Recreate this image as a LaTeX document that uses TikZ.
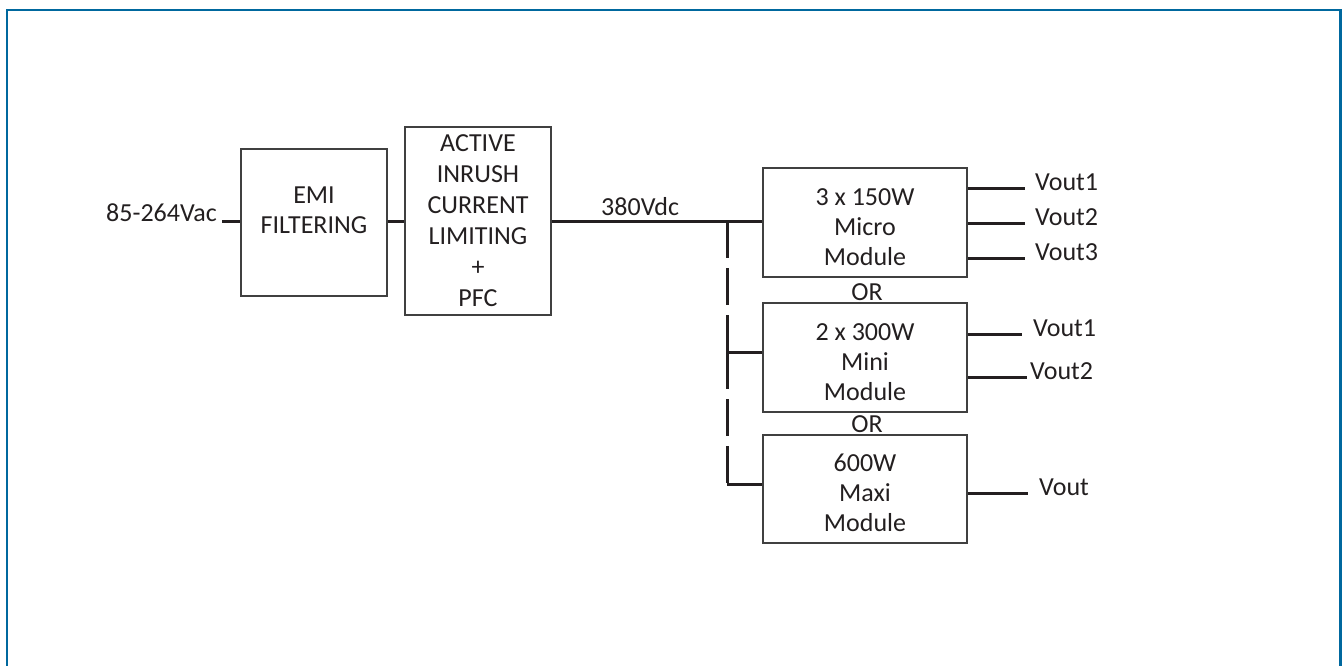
\documentclass[tikz,border=0pt]{standalone}
\usepackage{fontspec}
\setmainfont{Carlito}
\definecolor{framec}{RGB}{0,104,158}
\definecolor{boxc}{RGB}{64,64,64}
\definecolor{wirec}{RGB}{35,31,32}
\tikzset{
  blk/.style={draw=boxc, line width=1.5pt, inner sep=0pt},
  wire/.style={draw=wirec, line width=3pt},
  lbl/.style={inner sep=0pt, text=wirec, font=\fontsize{26}{30}\selectfont},
  btxt/.style={lbl, align=center},
  dwire/.style={wire, dash pattern=on 37pt off 10pt}
}
\begin{document}
\begin{tikzpicture}[x=1pt,y=-1pt]
\useasboundingbox (0,0) rectangle (1342,665);
\clip (0,0) rectangle (1342,665);
% frame
\draw[framec, line width=2.5pt] (7,700) -- (7,10) -- (1340.5,10) -- (1340.5,700);
% blocks
\node[blk, minimum width=146pt, minimum height=147pt,
  label={[btxt, yshift=12.5pt]center:EMI\\FILTERING}] (emi) at (314,222.5) {};
\node[blk, minimum width=146pt, minimum height=188pt,
  label={[btxt, font=\fontsize{26}{31}\selectfont, yshift=0pt]center:ACTIVE\\INRUSH\\CURRENT\\LIMITING\\+\\PFC}] (act) at (478,221) {};
\node[blk, minimum width=204pt, minimum height=109pt,
  label={[btxt, yshift=-5pt]center:3 x 150W\\Micro\\Module}] (micro) at (865,222.5) {};
\node[blk, minimum width=204pt, minimum height=109pt,
  label={[btxt, yshift=-4.5pt]center:2 x 300W\\Mini\\Module}] (mini) at (865,357.5) {};
\node[blk, minimum width=204pt, minimum height=108pt,
  label={[btxt, yshift=-4pt]center:600W\\Maxi\\Module}] (maxi) at (865,489) {};
% labels
\node[lbl, anchor=base east] (vin) at (217,221.5) {85-264Vac};
\node[lbl, anchor=base west] (vdc) at (601,215) {380Vdc};
\node[lbl] (or1) at (867,292) {OR};
\node[lbl] (or2) at (867,424) {OR};
\node[lbl, anchor=mid west] (o11) at (1035,188) {Vout1};
\node[lbl, anchor=mid west] (o12) at (1035,223) {Vout2};
\node[lbl, anchor=mid west] (o13) at (1035,258) {Vout3};
\node[lbl, anchor=mid west] (o21) at (1033,334) {Vout1};
\node[lbl, anchor=mid west] (o22) at (1030,377) {Vout2};
\node[lbl, anchor=mid west] (o31) at (1039,493) {Vout};
% wires
\coordinate (br) at (727,221);
\coordinate (b2) at (727,352);
\coordinate (b3) at (727,484);
\draw[wire] ([xshift=5pt]vin.base east) -- (vin.base east -| emi.west);
\draw[wire] (act.west -| emi.east) -- (act.west);
\draw[wire] (act.east) -- (br) -- (br -| micro.west);
\draw[dwire] (br) -- (b2);
\draw[dwire] (b2) -- (b3);
\draw[wire] (b2) -- (b2 -| mini.west);
\draw[wire] (b3) -- (b3 -| maxi.west);
\draw[wire] (o11.mid west -| micro.east) -- ([xshift=-10pt]o11.mid west);
\draw[wire] (o12.mid west -| micro.east) -- ([xshift=-10pt]o12.mid west);
\draw[wire] (o13.mid west -| micro.east) -- ([xshift=-10pt]o13.mid west);
\draw[wire] (o21.mid west -| mini.east) -- ([xshift=-11pt]o21.mid west);
\draw[wire] (o22.mid west -| mini.east) -- ([xshift=-3pt]o22.mid west);
\draw[wire] (o31.mid west -| maxi.east) -- ([xshift=-11pt]o31.mid west);
\end{tikzpicture}
\end{document}
